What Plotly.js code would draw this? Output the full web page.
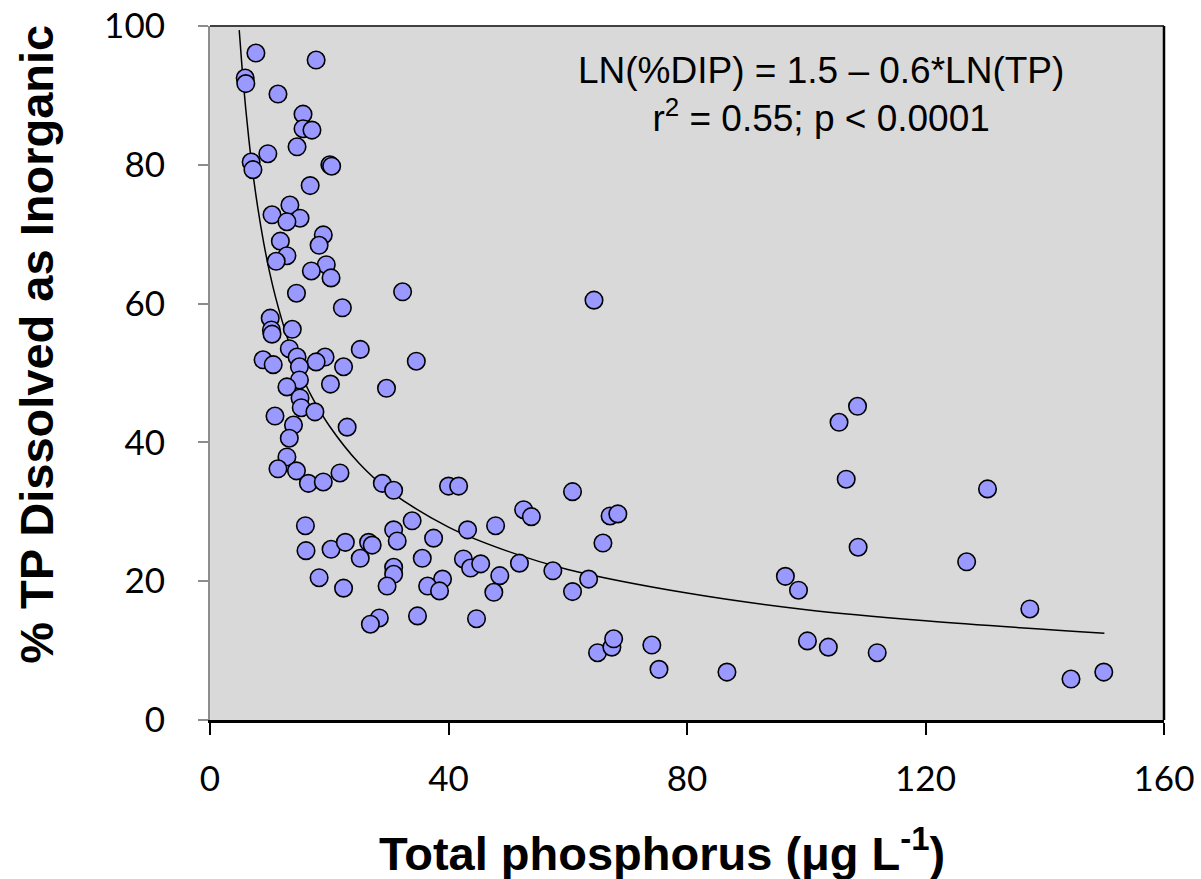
<!DOCTYPE html>
<html>
<head>
<meta charset="utf-8">
<script src="https://cdn.plot.ly/plotly-3.0.1.min.js"></script>
<style>html,body{margin:0;padding:0;background:#fff;}#chart{width:1201px;height:879px;}</style>
</head>
<body>
<div id="chart"></div>
<script>
// Observed data: total phosphorus (ug/L) and % TP dissolved as inorganic
const tp = [
  7.7,17.8,5.9,6.0,11.4,15.6,15.6,17.1,14.6,6.9,7.2,9.7,20.1,20.4,16.8,13.4,10.4,15.1,12.9,19.0,18.3,11.8,12.9,11.1,19.5,17.0,20.3,14.5,32.3,64.4,22.2,
  10.1,10.3,10.4,13.8,25.2,13.3,14.6,19.3,17.8,8.9,10.6,15.0,22.4,34.6,29.6,15.0,12.9,20.2,15.1,15.3,17.6,10.9,23.0,14.0,13.3,12.9,11.4,14.5,21.8,16.5,19.0,28.9,30.8,40.0,41.7,60.8,
  52.6,53.9,67.1,68.4,16.0,33.9,47.9,30.8,43.2,37.5,31.4,65.9,16.1,20.3,22.7,26.6,27.2,25.2,35.6,42.5,43.7,45.4,51.9,30.8,30.8,48.6,57.5,63.5,18.3,39.0,29.7,36.5,38.5,22.4,47.6,60.8,34.8,44.7,28.4,26.9,65.0,67.4,67.7,74.1,75.3,86.7,
  108.6,105.5,106.7,108.7,96.5,98.7,100.2,103.7,111.9,130.4,126.9,137.5,144.4,149.9
];
const pctDIP = [
  96.1,95.1,92.5,91.7,90.2,87.3,85.2,85.0,82.6,80.4,79.3,81.6,80.0,79.8,77.0,74.2,72.8,72.3,71.8,69.9,68.4,69.0,66.9,66.1,65.6,64.7,63.7,61.5,61.7,60.5,59.4,
  57.9,56.2,55.6,56.3,53.4,53.5,52.3,52.3,51.6,51.9,51.2,50.9,50.9,51.7,47.8,49.0,48.0,48.4,46.4,45.0,44.4,43.8,42.2,42.5,40.6,37.9,36.2,35.9,35.6,34.1,34.3,34.1,33.1,33.7,33.7,32.9,
  30.3,29.3,29.4,29.7,28.0,28.7,28.0,27.4,27.4,26.2,25.8,25.5,24.4,24.6,25.6,25.6,25.2,23.3,23.3,23.2,21.9,22.5,22.6,22.0,21.0,20.8,21.5,20.3,20.5,20.3,19.3,19.3,18.6,19.0,18.4,18.5,15.0,14.6,14.7,13.8,9.7,10.5,11.7,10.8,7.3,6.9,
  45.2,42.9,34.7,24.9,20.7,18.7,11.4,10.5,9.7,33.3,22.8,16.0,5.9,6.9
];
// Fitted trend line
const trendX = [4.9,5,5.5,6,6.5,7,8,9,10,11,12,13,15,17,20,25,30,40,50,60,80,100,120,150];
const trendY = [99.4,98.3,92.7,88.0,83.8,80.1,73.9,68.8,64.5,60.9,57.8,55.0,50.4,46.7,42.4,37.0,33.1,27.8,24.3,21.7,18.3,15.9,14.3,12.5];

const xTicks = [0,40,80,120,160];
const yTicks = [0,20,40,60,80,100];

const traces = [
  {x: trendX, y: trendY, mode: 'lines', type: 'scatter', line: {color: '#000', width: 1.5, shape: 'spline'}, hoverinfo: 'skip'},
  {x: tp, y: pctDIP, mode: 'markers', type: 'scatter',
   marker: {size: 17.5, color: '#9999ff', line: {color: '#000', width: 1.6}}}
];

const layout = {
  width: 1201, height: 879,
  margin: {l: 210, r: 37, t: 26, b: 159},
  paper_bgcolor: '#fff', plot_bgcolor: '#d9d9d9',
  showlegend: false,
  xaxis: {range: [0,160], tickvals: xTicks, ticktext: xTicks.map(String), showgrid: false, zeroline: false,
          showline: true, linecolor: '#000', linewidth: 2.5, ticks: 'outside', ticklen: 12, tickwidth: 2, tickcolor: '#000',
          tickfont: {family: 'Lato, Open Sans, sans-serif', size: 35, color: '#000'}, ticklabelstandoff: 14},
  yaxis: {range: [0,100], tickvals: yTicks, ticktext: yTicks.map(String), showgrid: false, zeroline: false,
          showline: true, linecolor: '#8c8c8c', linewidth: 2, ticks: 'outside', ticklen: 10, tickwidth: 2, tickcolor: '#8c8c8c',
          tickfont: {family: 'Lato, Open Sans, sans-serif', size: 35, color: '#000'}, ticklabelstandoff: 26},
  shapes: [
    {type: 'line', xref: 'paper', yref: 'paper', x0: 0, x1: 1, y0: 1, y1: 1, line: {color: '#404040', width: 2}},
    {type: 'line', xref: 'paper', yref: 'paper', x0: 1, x1: 1, y0: 0, y1: 1, line: {color: '#000', width: 2.5}}
  ],
  annotations: [
    {xref: 'paper', yref: 'paper', x: 0.640, y: 0.902, xanchor: 'center', yanchor: 'middle', showarrow: false, align: 'center',
     text: 'LN(%DIP) = 1.5 – 0.6*LN(TP)<br>r<sup>2</sup> = 0.55; p < 0.0001',
     font: {family: 'Liberation Sans, Arial, sans-serif', size: 37, color: '#000'}},
    {xref: 'paper', yref: 'paper', x: -0.1815, y: 0.5418, xanchor: 'center', yanchor: 'middle', showarrow: false, textangle: -90,
     text: '<b>% TP Dissolved as Inorganic</b>',
     font: {family: 'Liberation Sans, Arial, sans-serif', size: 47, color: '#000'}},
    {xref: 'paper', yref: 'paper', x: 0.474, y: -0.187, xanchor: 'center', yanchor: 'middle', showarrow: false,
     text: '<b>Total phosphorus (μg L<sup>-1</sup>)</b>',
     font: {family: 'Liberation Sans, Arial, sans-serif', size: 47, color: '#000'}}
  ]
};

Plotly.newPlot('chart', traces, layout, {displayModeBar: false, staticPlot: true});
</script>
</body>
</html>
